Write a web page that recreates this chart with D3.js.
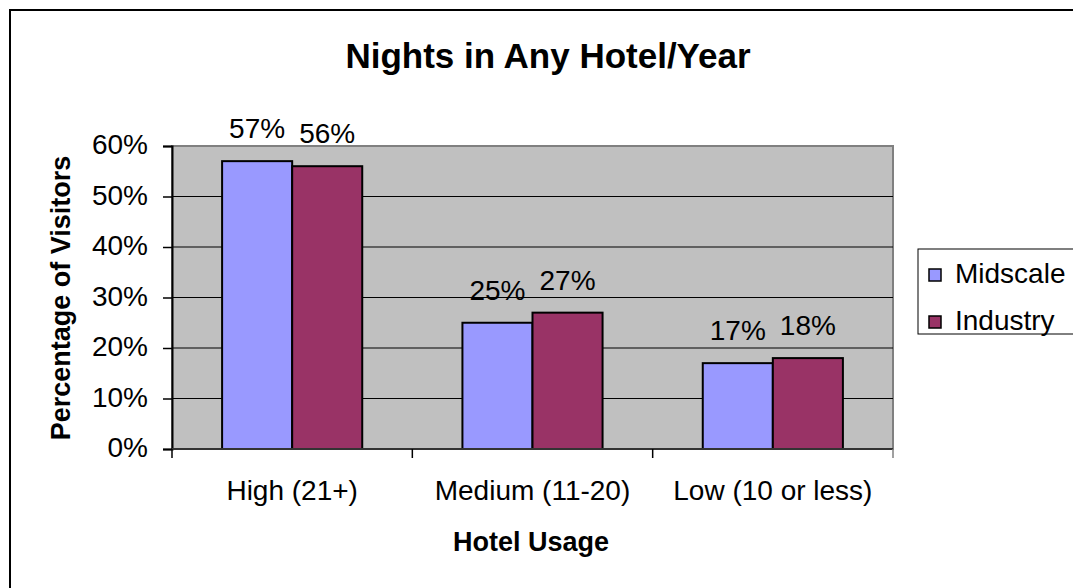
<!DOCTYPE html>
<html>
<head>
<meta charset="utf-8">
<script src="https://cdn.jsdelivr.net/npm/d3@7"></script>
<style>
  html, body { margin: 0; padding: 0; background: #fff; }
  svg { display: block; font-family: "Liberation Sans", Arial, sans-serif; }
</style>
</head>
<body>
<svg id="chart" width="1073" height="588"></svg>
<script>
// Nights in any hotel per year, share of visitors by usage band
const categories = ["High (21+)", "Medium (11-20)", "Low (10 or less)"];
const seriesNames = ["Midscale", "Industry"];
const midscale = [0.57, 0.25, 0.17];
const industry = [0.56, 0.27, 0.18];
const yTicks = [0, 0.1, 0.2, 0.3, 0.4, 0.5, 0.6];
const colors = ["#9999FF", "#993366"];

const svg = d3.select("#chart");
const plot = { left: 172, top: 146, right: 893, bottom: 449 };

// outer frame (extends past the right and bottom edges)
svg.append("rect")
  .attr("x", 10).attr("y", 10).attr("width", 1090).attr("height", 610)
  .attr("fill", "#fff").attr("stroke", "#000").attr("stroke-width", 2);

const x0 = d3.scaleBand().domain(categories).range([plot.left, plot.right]).paddingInner(0).paddingOuter(0);
const x1 = d3.scaleBand().domain(seriesNames).range([0, x0.bandwidth()]).paddingInner(0).paddingOuter(0.715);
const y = d3.scaleLinear().domain([0, 0.6]).range([plot.bottom, plot.top]);

// plot background
svg.append("rect")
  .attr("x", plot.left).attr("y", plot.top)
  .attr("width", plot.right - plot.left).attr("height", plot.bottom - plot.top)
  .attr("fill", "#C0C0C0").attr("stroke", "#808080").attr("stroke-width", 2);

// gridlines
svg.append("g").selectAll("line")
  .data(yTicks.filter(t => t > 0 && t < 0.6))
  .join("line")
  .attr("x1", plot.left).attr("x2", plot.right)
  .attr("y1", d => y(d)).attr("y2", d => y(d))
  .attr("stroke", "#000").attr("stroke-width", 1);

// bars
const data = categories.map((c, i) => ({ cat: c, vals: [midscale[i], industry[i]] }));
const groups = svg.append("g").selectAll("g")
  .data(data).join("g")
  .attr("transform", d => `translate(${x0(d.cat)},0)`);

groups.selectAll("rect")
  .data(d => d.vals.map((v, k) => ({ key: seriesNames[k], v, k })))
  .join("rect")
  .attr("x", d => x1(d.key))
  .attr("y", d => y(d.v))
  .attr("width", x1.bandwidth())
  .attr("height", d => y(0) - y(d.v))
  .attr("fill", d => colors[d.k])
  .attr("stroke", "#000").attr("stroke-width", 2);

groups.selectAll("text")
  .data(d => d.vals.map((v, k) => ({ key: seriesNames[k], v, k })))
  .join("text")
  .attr("x", d => x1(d.key) + x1.bandwidth() / 2)
  .attr("y", d => y(d.v) - 23)
  .attr("text-anchor", "middle")
  .attr("font-size", 28)
  .attr("fill", "#000")
  .text(d => d3.format(".0%")(d.v));

// y axis
const yAxis = d3.axisLeft(y).tickValues(yTicks).tickFormat(d3.format(".0%")).tickSize(9).tickPadding(15);
const gy = svg.append("g").attr("transform", `translate(${plot.left},0)`).call(yAxis);
gy.select(".domain").attr("stroke", "#000").attr("stroke-width", 2);
gy.selectAll(".tick line").attr("stroke", "#000").attr("stroke-width", 1.5);
gy.selectAll(".tick text")
  .attr("font-size", 28).attr("font-family", "Liberation Sans, Arial, sans-serif")
  .attr("fill", "#000").attr("dy", "0.28em");

// x axis (ticks on category boundaries)
const boundaries = categories.map(c => x0(c)).concat([plot.right]);
svg.append("line")
  .attr("x1", plot.left).attr("x2", plot.right)
  .attr("y1", plot.bottom).attr("y2", plot.bottom)
  .attr("stroke", "#333").attr("stroke-width", 2);
svg.append("g").selectAll("line")
  .data(boundaries).join("line")
  .attr("x1", d => d).attr("x2", d => d)
  .attr("y1", plot.bottom).attr("y2", plot.bottom + 9)
  .attr("stroke", (d, i) => i === boundaries.length - 1 ? "#808080" : "#000")
  .attr("stroke-width", 1.5);
svg.append("g").selectAll("text")
  .data(categories).join("text")
  .attr("x", d => x0(d) + x0.bandwidth() / 2)
  .attr("y", 500)
  .attr("text-anchor", "middle")
  .attr("font-size", 28)
  .text(d => d);

// titles
svg.append("text")
  .attr("x", 548).attr("y", 68)
  .attr("text-anchor", "middle")
  .attr("font-size", 35).attr("font-weight", "bold")
  .text("Nights in Any Hotel/Year");

svg.append("text")
  .attr("x", 531).attr("y", 551)
  .attr("text-anchor", "middle")
  .attr("font-size", 27).attr("font-weight", "bold")
  .text("Hotel Usage");

svg.append("text")
  .attr("transform", "translate(70,298) rotate(-90)")
  .attr("text-anchor", "middle")
  .attr("font-size", 27).attr("font-weight", "bold")
  .text("Percentage of Visitors");

// legend
const legend = svg.append("g");
legend.append("rect")
  .attr("x", 918).attr("y", 249).attr("width", 200).attr("height", 85)
  .attr("fill", "#fff").attr("stroke", "#000").attr("stroke-width", 1);
const items = legend.selectAll("g.item")
  .data(seriesNames).join("g").attr("class", "item")
  .attr("transform", (d, i) => `translate(929,${269 + i * 47})`);
items.append("rect")
  .attr("width", 12).attr("height", 12)
  .attr("fill", (d, i) => colors[i]).attr("stroke", "#000").attr("stroke-width", 1.5);
items.append("text")
  .attr("x", 26).attr("y", 14)
  .attr("font-size", 28)
  .text(d => d);
</script>
</body>
</html>
